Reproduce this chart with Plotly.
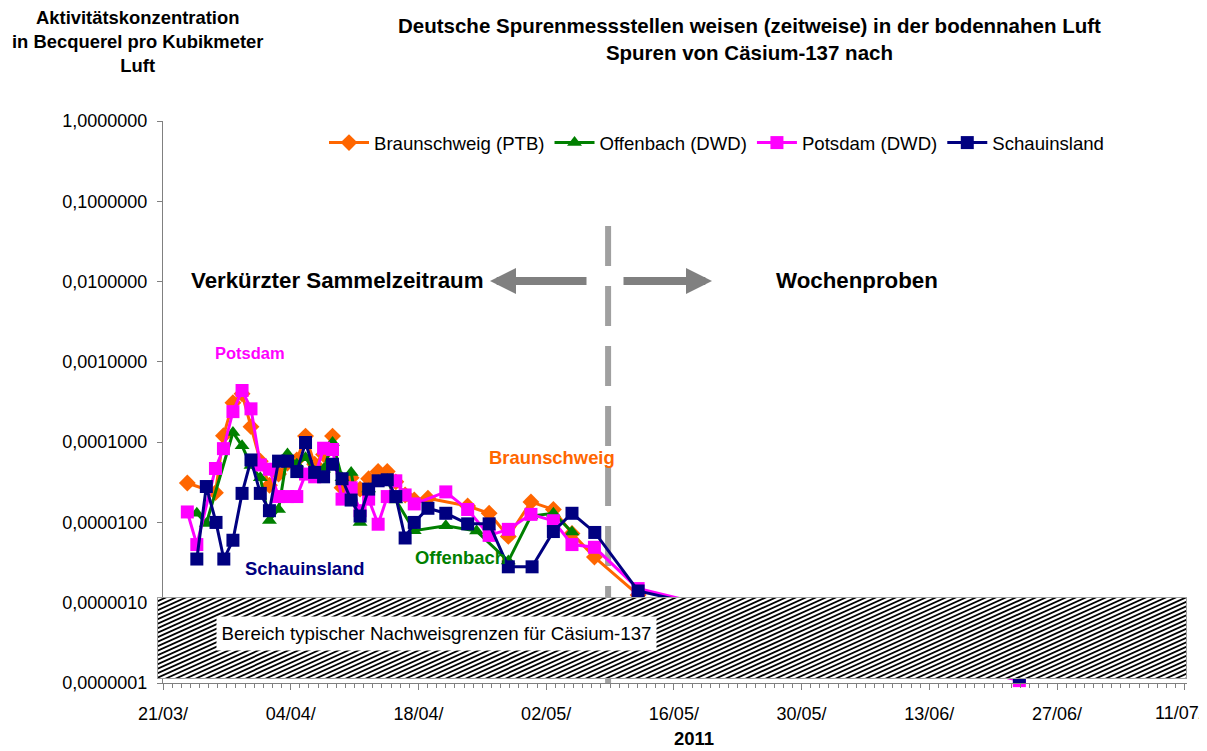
import plotly.graph_objects as go
import pandas as pd

# ---------------- data ----------------
braunschweig_dates = ["2011-03-23 16:00", "2011-03-26 18:00", "2011-03-27 15:00", "2011-03-28 16:00",
                      "2011-03-29 16:00", "2011-03-30 15:30", "2011-03-31 16:00", "2011-04-01 16:00",
                      "2011-04-02 16:00", "2011-04-03 15:30", "2011-04-04 16:00", "2011-04-05 15:00",
                      "2011-04-06 15:00", "2011-04-07 14:30", "2011-04-08 14:00", "2011-04-09 15:00",
                      "2011-04-10 15:00", "2011-04-11 14:30", "2011-04-12 13:00", "2011-04-13 14:00",
                      "2011-04-14 14:00", "2011-04-15 12:30", "2011-04-16 13:00", "2011-04-17 13:00",
                      "2011-04-19 01:00", "2011-04-23 09:30", "2011-04-25 18:00", "2011-04-27 20:30",
                      "2011-04-30 08:00", "2011-05-02 19:00", "2011-05-04 20:00", "2011-05-07 07:00",
                      "2011-05-12 02:00"]
braunschweig_values = [3.1e-5, 2.35e-5, 1.2e-4, 3.1e-4, 4.0e-4, 1.56e-4, 5.8e-5, 2.9e-5,
                       4.0e-5, 5.5e-5, 6.0e-5, 1.19e-4, 5.3e-5, 7.0e-5, 1.19e-4, 2.7e-5,
                       3.6e-5, 2.6e-5, 3.5e-5, 4.3e-5, 4.3e-5, 3.2e-5, 2.2e-5, 1.9e-5,
                       2.0e-5, 1.6e-5, 1.3e-5, 6.7e-6, 1.8e-5, 1.45e-5, 7.3e-6, 3.7e-6,
                       1.25e-6]

offenbach_dates = ["2011-03-24 17:00", "2011-03-25 18:00", "2011-03-28 16:00", "2011-03-29 16:00",
                   "2011-03-30 15:30", "2011-03-31 16:00", "2011-04-01 16:00", "2011-04-02 16:00",
                   "2011-04-03 15:30", "2011-04-04 16:00", "2011-04-05 15:00", "2011-04-06 15:00",
                   "2011-04-07 14:30", "2011-04-08 14:00", "2011-04-09 15:00", "2011-04-10 15:00",
                   "2011-04-11 14:30", "2011-04-12 13:00", "2011-04-13 14:00", "2011-04-14 14:00",
                   "2011-04-15 12:30", "2011-04-17 13:00", "2011-04-21 00:00", "2011-04-24 09:00",
                   "2011-04-27 20:30", "2011-04-30 08:00", "2011-05-02 19:00", "2011-05-04 20:00"]
offenbach_values = [1.3e-5, 9.7e-6, 1.32e-4, 9.0e-5, 5.1e-5, 3.6e-5, 1.06e-5, 1.45e-5,
                    7.1e-5, 5.3e-5, 6.4e-5, 4.3e-5, 4.6e-5, 9.9e-5, 3.6e-5, 4.2e-5,
                    1.0e-5, 2.6e-5, 3.3e-5, 3.4e-5, 1.9e-5, 7.9e-6, 9.1e-6, 7.8e-6,
                    3.3e-6, 1.2e-5, 1.3e-5, 7.6e-6]

potsdam_dates = ["2011-03-23 16:00", "2011-03-24 17:00", "2011-03-26 18:00", "2011-03-27 15:00",
                 "2011-03-28 16:00", "2011-03-29 16:00", "2011-03-30 15:30", "2011-03-31 16:00",
                 "2011-04-01 16:00", "2011-04-02 16:00", "2011-04-03 15:30", "2011-04-04 16:00",
                 "2011-04-05 15:00", "2011-04-06 15:00", "2011-04-07 14:30", "2011-04-08 14:00",
                 "2011-04-09 15:00", "2011-04-10 15:00", "2011-04-11 14:30", "2011-04-12 13:00",
                 "2011-04-13 14:00", "2011-04-14 14:00", "2011-04-15 12:30", "2011-04-16 13:00",
                 "2011-04-17 13:00", "2011-04-21 00:00", "2011-04-23 09:30", "2011-04-25 18:00",
                 "2011-04-27 20:30", "2011-04-30 08:00", "2011-05-02 19:00", "2011-05-04 20:00",
                 "2011-05-07 07:00", "2011-05-12 02:00", "2011-06-22 21:00"]
potsdam_values = [1.35e-5, 5.3e-6, 4.7e-5, 8.3e-5, 2.4e-4, 4.4e-4, 2.6e-4, 5.2e-5,
                  4.6e-5, 2.1e-5, 2.1e-5, 2.1e-5, 4.0e-5, 3.7e-5, 8.4e-5, 8.1e-5,
                  1.95e-5, 2.7e-5, 1.4e-5, 1.95e-5, 9.5e-6, 2.1e-5, 3.3e-5, 2.2e-5,
                  1.7e-5, 2.4e-5, 1.45e-5, 6.9e-6, 8.2e-6, 1.26e-5, 1.05e-5, 5.3e-6,
                  4.9e-6, 1.5e-6, 1.07e-7]

schauinsland_dates = ["2011-03-24 17:00", "2011-03-25 18:00", "2011-03-26 19:30", "2011-03-27 16:00",
                      "2011-03-28 16:00", "2011-03-29 16:00", "2011-03-30 15:30", "2011-03-31 16:00",
                      "2011-04-01 16:00", "2011-04-02 16:00", "2011-04-03 15:30", "2011-04-04 16:00",
                      "2011-04-05 15:00", "2011-04-06 15:00", "2011-04-07 14:30", "2011-04-08 14:00",
                      "2011-04-09 15:00", "2011-04-10 15:00", "2011-04-11 14:30", "2011-04-12 13:00",
                      "2011-04-13 14:00", "2011-04-14 14:00", "2011-04-15 12:30", "2011-04-16 13:00",
                      "2011-04-17 13:00", "2011-04-19 01:00", "2011-04-21 00:00", "2011-04-23 09:30",
                      "2011-04-25 18:00", "2011-04-27 20:30", "2011-04-30 11:00", "2011-05-02 19:00",
                      "2011-05-04 20:00", "2011-05-07 08:00", "2011-05-12 02:00", "2011-06-22 21:00"]
schauinsland_values = [3.5e-6, 2.8e-5, 1.0e-5, 3.5e-6, 6.0e-6, 2.3e-5, 6.0e-5, 2.3e-5,
                       1.4e-5, 5.8e-5, 5.8e-5, 4.3e-5, 9.9e-5, 4.2e-5, 3.7e-5, 5.3e-5,
                       3.5e-5, 1.9e-5, 1.2e-5, 2.6e-5, 3.3e-5, 3.4e-5, 2.1e-5, 6.4e-6,
                       1.0e-5, 1.5e-5, 1.3e-5, 9.6e-6, 9.6e-6, 2.8e-6, 2.8e-6, 7.7e-6,
                       1.3e-5, 7.5e-6, 1.4e-6, 1.2e-7]

series_names = ["Braunschweig (PTB)", "Offenbach (DWD)", "Potsdam (DWD)", "Schauinsland"]
y_tick_values = [1e-7, 1e-6, 1e-5, 1e-4, 1e-3, 1e-2, 1e-1, 1]
y_tick_labels = ["0,0000001", "0,0000010", "0,0000100", "0,0001000",
                 "0,0010000", "0,0100000", "0,1000000", "1,0000000"]
x_tick_dates = ["2011-03-21", "2011-04-04", "2011-04-18", "2011-05-02", "2011-05-16",
                "2011-05-30", "2011-06-13", "2011-06-27", "2011-07-11"]
x_tick_labels = ["21/03/", "04/04/", "18/04/", "02/05/", "16/05/",
                 "30/05/", "13/06/", "27/06/", "11/07/"]
x_start = "2011-03-21"
x_end = "2011-07-11 06:00"
split_date = "2011-05-08 19:00"

# ---------------- layout helpers (reference pixel -> paper) ----------------
OFF = 8                      # page body margin of the browser
FW, FH = 1207 - OFF, 751 - OFF
PL, PR, PT, PB = 150, 1187, 121, 683   # plotting region in reference pixels
AXIS_X = 163


def fx(x):
    return (x - PL) / (PR - PL)


def fy(y):
    return (PB - y) / (PB - PT)


FONT = "Liberation Sans, Arial, sans-serif"

fig = go.Figure()

styles = [
    ("#FF6600", "diamond", 13),
    ("#008000", "triangle-up", 13),
    ("#FF00FF", "square", 13),
    ("#000080", "square", 13),
]
all_dates = [braunschweig_dates, offenbach_dates, potsdam_dates, schauinsland_dates]
all_values = [braunschweig_values, offenbach_values, potsdam_values, schauinsland_values]

for name, d, v, (col, sym, sz) in zip(series_names, all_dates, all_values, styles):
    fig.add_trace(go.Scatter(
        x=pd.to_datetime(d), y=v, name=name, mode="lines+markers",
        line=dict(color=col, width=3),
        marker=dict(symbol=sym, size=sz, color=col, line=dict(width=0)),
        cliponaxis=False, xaxis="x", yaxis="y",
    ))

# ---- hatched band (decoration) in an overlying subplot so it covers the lines ----
HX0, HX1, HY0, HY1 = 157, 1187, 597, 679      # band box in reference pixels
bw, bh = HX1 - HX0, HY1 - HY0
fig.add_trace(go.Scatter(
    x=[0, 1, 1, 0, 0], y=[0, 0, 1, 1, 0], xaxis="x2", yaxis="y2",
    mode="lines", fill="toself", fillcolor="white", line=dict(width=0),
    showlegend=False, hoverinfo="skip",
))
slope = 0.45          # hatch rise per horizontal pixel
spacing = 10          # horizontal distance between hatch lines, px
hx, hy = [], []
c = -bh / slope
while c < bw:
    hx += [c / bw, (c + bh / slope) / bw, None]
    hy += [0, 1, None]
    c += spacing
fig.add_trace(go.Scatter(x=hx, y=hy, xaxis="x2", yaxis="y2", mode="lines",
                         line=dict(color="black", width=1.8), showlegend=False, hoverinfo="skip"))
fig.add_trace(go.Scatter(x=[0, 1, 1, 0, 0], y=[0, 0, 1, 1, 0], xaxis="x2", yaxis="y2", mode="lines",
                         line=dict(color="#A0A0A0", width=2), showlegend=False, hoverinfo="skip"))

# the last date label sits at the right page edge; it is written as an annotation so it stays whole
axis_ticktext = x_tick_labels[:-1] + [""]

fig.update_layout(
    width=FW, height=FH,
    margin=dict(l=PL - OFF, r=FW - (PR - OFF), t=PT - OFF, b=FH - (PB - OFF)),
    paper_bgcolor="white", plot_bgcolor="white",
    font=dict(family=FONT, size=18, color="black"),
    showlegend=True,
    legend=dict(orientation="h", x=fx(324), xanchor="left", y=fy(143), yanchor="middle",
                font=dict(size=18.6), itemwidth=40, bgcolor="rgba(0,0,0,0)"),
    xaxis=dict(
        type="date", domain=[fx(AXIS_X), 1], range=[x_start, x_end],
        tickvals=pd.to_datetime(x_tick_dates), ticktext=axis_ticktext,
        ticks="outside", ticklen=6, tickcolor="#808080", ticklabelstandoff=8,
        automargin=False,
        showline=True, linecolor="#808080", linewidth=1, showgrid=False, zeroline=False,
        minor=dict(dtick=86400000, tick0=x_start, ticks="outside", ticklen=4,
                   tickcolor="#808080", showgrid=False),
        tickfont=dict(size=18),
    ),
    yaxis=dict(
        type="log", range=[-7, 0], tickvals=y_tick_values, ticktext=y_tick_labels,
        ticks="outside", ticklen=5, tickcolor="#808080", ticklabelstandoff=6,
        automargin=False,
        showline=True, linecolor="#808080", linewidth=1, showgrid=False, zeroline=False,
        tickfont=dict(size=18),
    ),
    xaxis2=dict(domain=[fx(HX0), fx(HX1)], range=[0, 1], visible=False, anchor="y2", fixedrange=True),
    yaxis2=dict(domain=[fy(HY1), fy(HY0)], range=[0, 1], visible=False, anchor="x2", fixedrange=True),
)

# vertical dashed separator
fig.add_shape(type="line", xref="x", yref="paper", x0=split_date, x1=split_date,
              y0=fy(226), y1=0, line=dict(color="#A0A0A0", width=6, dash="40px,20px"), layer="below")

annotations = []
annotations.append(dict(text=x_tick_labels[-1], x=fx(1206), y=fy(713), xref="paper", yref="paper",
                        showarrow=False, xanchor="right", yanchor="middle", font=dict(size=18)))
annotations.append(dict(text="<b>Deutsche Spurenmessstellen weisen (zeitweise) in der bodennahen Luft<br>"
                             "Spuren von Cäsium-137 nach</b>",
                        x=fx(749), y=fy(39), xref="paper", yref="paper", showarrow=False,
                        xanchor="center", yanchor="middle", font=dict(size=20.5)))
annotations.append(dict(text="<b>Aktivitätskonzentration<br>in Becquerel pro Kubikmeter<br>Luft</b>",
                        x=fx(137), y=fy(41), xref="paper", yref="paper", showarrow=False,
                        xanchor="center", yanchor="middle", font=dict(size=18.4)))
annotations.append(dict(text="<b>2011</b>", x=fx(694), y=fy(738), xref="paper", yref="paper",
                        showarrow=False, xanchor="center", yanchor="middle", font=dict(size=18.5)))
annotations.append(dict(text="<b>Verkürzter Sammelzeitraum</b>", x=fx(337), y=fy(280), xref="paper",
                        yref="paper", showarrow=False, xanchor="center", yanchor="middle",
                        font=dict(size=22.3)))
annotations.append(dict(text="<b>Wochenproben</b>", x=fx(857), y=fy(280), xref="paper", yref="paper",
                        showarrow=False, xanchor="center", yanchor="middle", font=dict(size=22.3)))
annotations.append(dict(text="", x=fx(490), y=fy(281), xref="paper", yref="paper", ax=98, ay=0,
                        showarrow=True, arrowhead=2, arrowsize=0.65, arrowwidth=8, arrowcolor="#808080"))
annotations.append(dict(text="", x=fx(712), y=fy(281), xref="paper", yref="paper", ax=-90, ay=0,
                        showarrow=True, arrowhead=2, arrowsize=0.65, arrowwidth=8, arrowcolor="#808080"))
label_specs = [("Potsdam", "#FF00FF", 250, 353, 16.5), ("Braunschweig", "#FF6600", 552, 457, 18.4),
               ("Offenbach", "#008000", 460, 557, 18.4), ("Schauinsland", "#000080", 305, 568, 18.4)]
for txt, col, x, y, fs in label_specs:
    annotations.append(dict(text=f"<b>{txt}</b>", x=fx(x), y=fy(y), xref="paper", yref="paper",
                            showarrow=False, xanchor="center", yanchor="middle",
                            font=dict(size=fs, color=col)))
annotations.append(dict(text="Bereich typischer Nachweisgrenzen für Cäsium-137", x=fx(436.5), y=fy(633.5),
                        xref="paper", yref="paper", showarrow=False, xanchor="center", yanchor="middle",
                        bgcolor="white", borderpad=0, width=439, height=33, font=dict(size=18.7)))
fig.update_layout(annotations=annotations)

fig.write_html("out.html")
